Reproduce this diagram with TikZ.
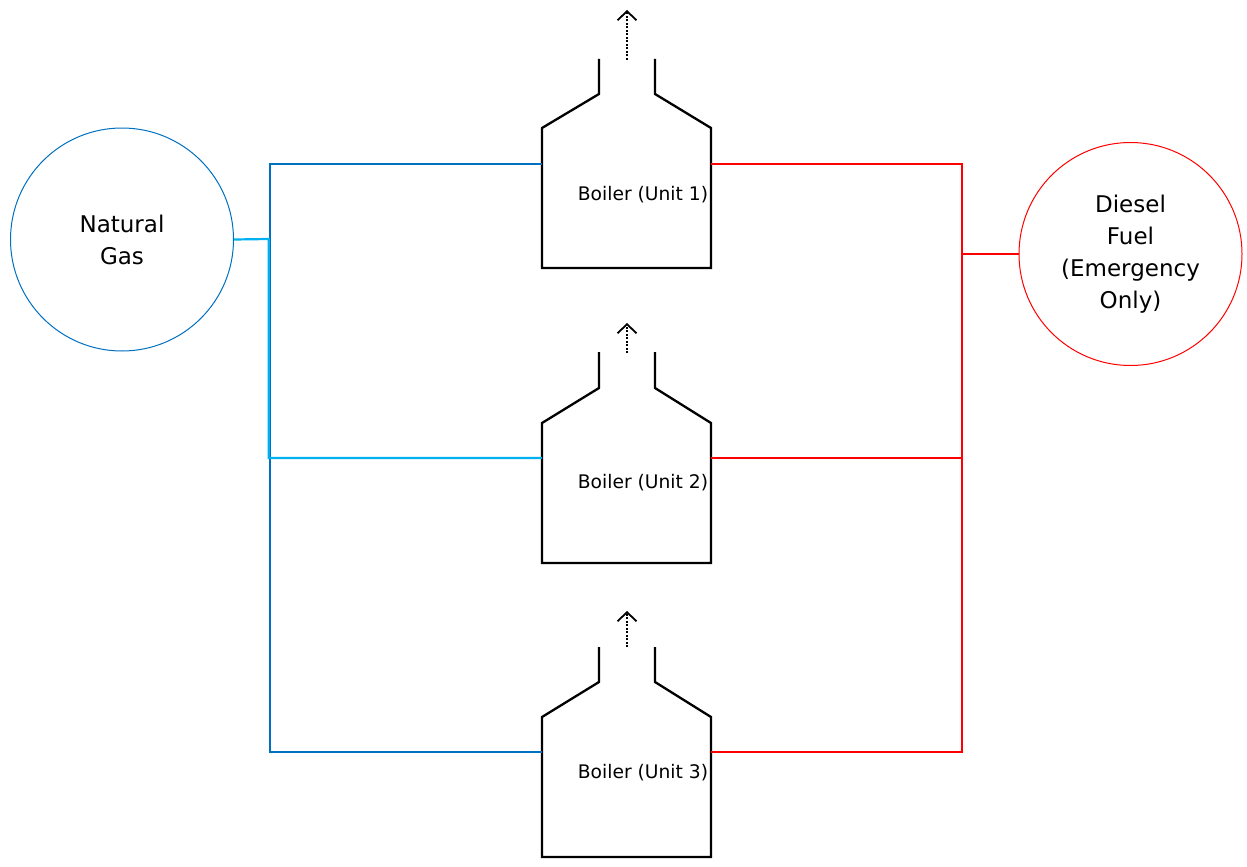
\documentclass[tikz,border=0pt]{standalone}
\usepackage{fontspec}
\setmainfont{DejaVu Sans}
\usepackage{tikz}
\usetikzlibrary{arrows.meta}

\definecolor{gasblue}{RGB}{0,112,192}
\definecolor{gaslight}{RGB}{0,176,240}
\definecolor{fuelred}{RGB}{255,0,0}

\tikzset{
	tank/.style={circle,draw,line width=1pt,minimum size=223pt,inner sep=0pt,
		align=center,font=\fontsize{23}{32}\selectfont},
	boiler/.style={draw,line width=2.3pt,line join=miter},
	flue/.style={-{Straight Barb[length=9pt,width=19pt,line width=1.8pt]},
		line width=1.8pt,dash pattern=on 2pt off 1.5pt},
	label/.style={anchor=base,font=\fontsize{18.7}{22}\selectfont},
	pipe/.style={line width=2.2pt}
}

\begin{document}
\begin{tikzpicture}[x=1pt,y=-1pt]
	\useasboundingbox (0,0) rectangle (1247,867);
	% fuel sources
	\node[tank,gasblue,text=black] (NG) at (122,239.5) {Natural\\Gas};
	\node[tank,fuelred,text=black] (DF) at (1130.5,254) {Diesel\\Fuel\\(Emergency\\Only)};
	% boilers
	\draw[boiler] (599,59)--(599,94)--(542,128)--(542,268)--(711,268)--(711,128)--(655,94)--(655,59);
	\draw[boiler] (599,352)--(599,388)--(542,423)--(542,563)--(711,563)--(711,423)--(655,388)--(655,352);
	\draw[boiler] (599,647)--(599,682)--(542,717)--(542,857)--(711,857)--(711,717)--(655,682)--(655,647);
	\node[label] (B1) at (643,200) {Boiler (Unit 1)};
	\node[label] (B2) at (643,488) {Boiler (Unit 2)};
	\node[label] (B3) at (643,778) {Boiler (Unit 3)};
	% flue gas
	\coordinate (s1) at (627,60);  \coordinate (e1) at (627,10);
	\coordinate (s2) at (627,353); \coordinate (e2) at (627,323);
	\coordinate (s3) at (627,647); \coordinate (e3) at (627,611);
	\draw[flue] (s1)--(e1);
	\draw[flue] (s2)--(e2);
	\draw[flue] (s3)--(e3);
	% inlets
	\coordinate (b1w) at (542,164); \coordinate (b1e) at (711,164);
	\coordinate (b2w) at (542,458); \coordinate (b2e) at (711,458);
	\coordinate (b3w) at (542,752); \coordinate (b3e) at (711,752);
	\coordinate (gj) at (268.7,239);
	\coordinate (fj) at (962,254);
	% gas lines
	\draw[pipe,gasblue] (b1w)--(270,164)--(270,752)--(b3w);
	\draw[pipe,gaslight] (NG.east)--(gj)--(268.7,458)--(b2w);
	% diesel lines
	\draw[pipe,fuelred] (b1e)--(962,164)--(962,752)--(b3e);
	\draw[pipe,fuelred] (b2e)--(962,458);
	\draw[pipe,fuelred,line width=2.8pt] (DF.west)--(fj);
\end{tikzpicture}
\end{document}
